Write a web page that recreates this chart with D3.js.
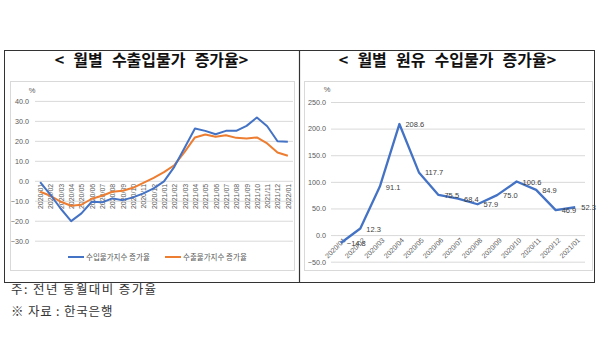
<!DOCTYPE html>
<html><head><meta charset="utf-8">
<script src="https://cdn.jsdelivr.net/npm/d3@7"></script>
<style>body{margin:0;background:#fff}svg{display:block}</style>
</head><body>
<svg id="c" width="600" height="356"></svg>
<script>
// ---- data ----
const months1 = ["2020/01","2020/02","2020/03","2020/04","2020/05","2020/06","2020/07","2020/08","2020/09","2020/10","2020/11","2020/12",
  "2021/01","2021/02","2021/03","2021/04","2021/05","2021/06","2021/07","2021/08","2021/09","2021/10","2021/11","2021/12","2022/01"];
const importIdx = [-0.7,-7,-14,-20.2,-16.3,-10.5,-10.8,-8.8,-9.7,-8.3,-6.3,-3.8,
  -0.3,7,16.5,26.2,25,23.3,25,25,27.5,31.7,27.3,19.8,19.5];
const exportIdx = [-5.5,-7.5,-10.5,-12.5,-12,-9,-7.5,-5.5,-5,-3.5,-1,1.5,
  4.3,7.8,14.5,21.7,23.2,22,22.8,21.5,21.2,21.7,18.7,14.2,12.5];
const leftTicks = [-30,-20,-10,0,10,20,30,40];
const seriesNames = ["수입물가지수 증가율","수출물가지수 증가율"];

const months2 = ["2020/01","2020/02","2020/03","2020/04","2020/05","2020/06","2020/07","2020/08","2020/09","2020/10","2020/11","2020/12","2021/01"];
const crudeOil = [-14.8,12.3,91.1,208.6,117.7,75.5,68.4,57.9,75.0,100.6,84.9,46.9,52.3];
const rightTicks = [-50,0,50,100,150,200,250];

const titles = ["< 월별 수출입물가 증가율>","< 월별 원유 수입물가 증가율>"];
const notes = ["주: 전년 동월대비 증가율","※ 자료 : 한국은행"];

// ---- drawing ----
const svg = d3.select("#c");
const BLUE = "#4472c4", ORANGE = "#ed7d31", GRID = "#d9d9d9", TXT = "#595959";
const sans = "'Liberation Sans', Arial, sans-serif";
const kr = "'Noto Sans CJK KR', sans-serif";

// outer frames
svg.append("rect").attr("x",4.5).attr("y",50.5).attr("width",590).attr("height",232)
  .attr("fill","none").attr("stroke","#333").attr("stroke-width",1);
svg.append("line").attr("x1",299.5).attr("x2",299.5).attr("y1",50.5).attr("y2",282.5)
  .attr("stroke","#333").attr("stroke-width",1.2);
// inner plot area boxes
svg.append("rect").attr("x",10.5).attr("y",81.5).attr("width",284).attr("height",189)
  .attr("fill","none").attr("stroke",GRID);
svg.append("rect").attr("x",304.5).attr("y",81.5).attr("width",288).attr("height",189)
  .attr("fill","none").attr("stroke",GRID);

// titles
svg.selectAll("text.title").data(titles).join("text").attr("class","title")
  .attr("x",(d,i)=> i===0 ? 151.5 : 447.5).attr("y",66)
  .attr("text-anchor","middle").attr("font-family",kr).attr("font-weight","bold")
  .attr("font-size",16).attr("word-spacing",5.5).attr("fill","#111").text(d=>d);

// notes
svg.selectAll("text.note").data(notes).join("text").attr("class","note")
  .attr("x",11).attr("y",(d,i)=> i===0 ? 294 : 316)
  .attr("font-family",kr).attr("font-size",12.5).attr("letter-spacing",(d,i)=> i===0?1.4:0.8)
  .attr("fill","#333").text(d=>d);

// ---------- left chart ----------
const xL = d3.scalePoint().domain(months1).range([35,293]).padding(0.5);
const yL = d3.scaleLinear().domain([-30,40]).range([240.7,100.9]);

const gyL = svg.append("g").attr("transform","translate(35,0)")
  .call(d3.axisLeft(yL).tickValues(leftTicks).tickFormat(d3.format(".1f")).tickSize(-258).tickPadding(6));
gyL.select(".domain").remove();
gyL.selectAll(".tick line").attr("stroke",GRID);
gyL.selectAll(".tick text").attr("fill",TXT).attr("font-family",sans).attr("font-size",7.2);
svg.append("text").attr("x",32).attr("y",93).attr("text-anchor","middle")
  .attr("font-family",sans).attr("font-size",7.5).attr("fill",TXT).text("%");

// x labels (at zero line)
const gxL = svg.append("g").attr("transform",`translate(0,${yL(0)})`)
  .call(d3.axisBottom(xL).tickSize(0).tickPadding(0));
gxL.select(".domain").remove();
gxL.selectAll(".tick text")
  .attr("transform","translate(0,3) rotate(-90)")
  .attr("text-anchor","end").attr("dy","0.35em").attr("dx",0).attr("y",0)
  .attr("fill",TXT).attr("font-family",sans).attr("font-size",7);

const lineL = d3.line().x((d,i)=>xL(months1[i])).y(d=>yL(d));
svg.append("path").datum(exportIdx).attr("d",lineL).attr("fill","none")
  .attr("stroke",ORANGE).attr("stroke-width",2).attr("stroke-linejoin","round");
svg.append("path").datum(importIdx).attr("d",lineL).attr("fill","none")
  .attr("stroke",BLUE).attr("stroke-width",2).attr("stroke-linejoin","round");

// legend
const legX = [68,165], legC = [BLUE, ORANGE];
seriesNames.forEach((n,i)=>{
  svg.append("line").attr("x1",legX[i]).attr("x2",legX[i]+16).attr("y1",257).attr("y2",257)
    .attr("stroke",legC[i]).attr("stroke-width",2);
  svg.append("text").attr("x",legX[i]+18).attr("y",259.5).attr("font-family",kr)
    .attr("font-size",7.5).attr("fill",TXT).text(n);
});

// ---------- right chart ----------
const xR = d3.scalePoint().domain(months2).range([331,585]).padding(0.5);
const yR = d3.scaleLinear().domain([-50,250]).range([261.7,102]);

const gyR = svg.append("g").attr("transform","translate(331,0)")
  .call(d3.axisLeft(yR).tickValues(rightTicks).tickFormat(d3.format(".1f")).tickSize(-254).tickPadding(5));
gyR.select(".domain").remove();
gyR.selectAll(".tick line").attr("stroke",GRID);
gyR.selectAll(".tick text").attr("fill",TXT).attr("font-family",sans).attr("font-size",7.2);
svg.append("text").attr("x",327).attr("y",92).attr("text-anchor","middle")
  .attr("font-family",sans).attr("font-size",7.5).attr("fill",TXT).text("%");

const gxR = svg.append("g").attr("transform",`translate(0,${yR(0)})`)
  .call(d3.axisBottom(xR).tickSize(0).tickPadding(0));
gxR.select(".domain").remove();
gxR.selectAll(".tick text")
  .attr("transform","translate(3,4) rotate(-45)")
  .attr("text-anchor","end").attr("dy","0.35em").attr("y",0)
  .attr("fill",TXT).attr("font-family",sans).attr("font-size",7);

const lineR = d3.line().x((d,i)=>xR(months2[i])).y(d=>yR(d));
svg.append("path").datum(crudeOil).attr("d",lineR).attr("fill","none")
  .attr("stroke",BLUE).attr("stroke-width",2.3).attr("stroke-linejoin","round");

svg.selectAll("text.dl").data(crudeOil).join("text").attr("class","dl")
  .attr("x",(d,i)=>xR(months2[i])+6).attr("y",d=>yR(d)+3)
  .attr("font-family",sans).attr("font-size",7.5).attr("fill","#404040")
  .text(d=>d3.format(".1f")(d));
</script>
</body></html>
